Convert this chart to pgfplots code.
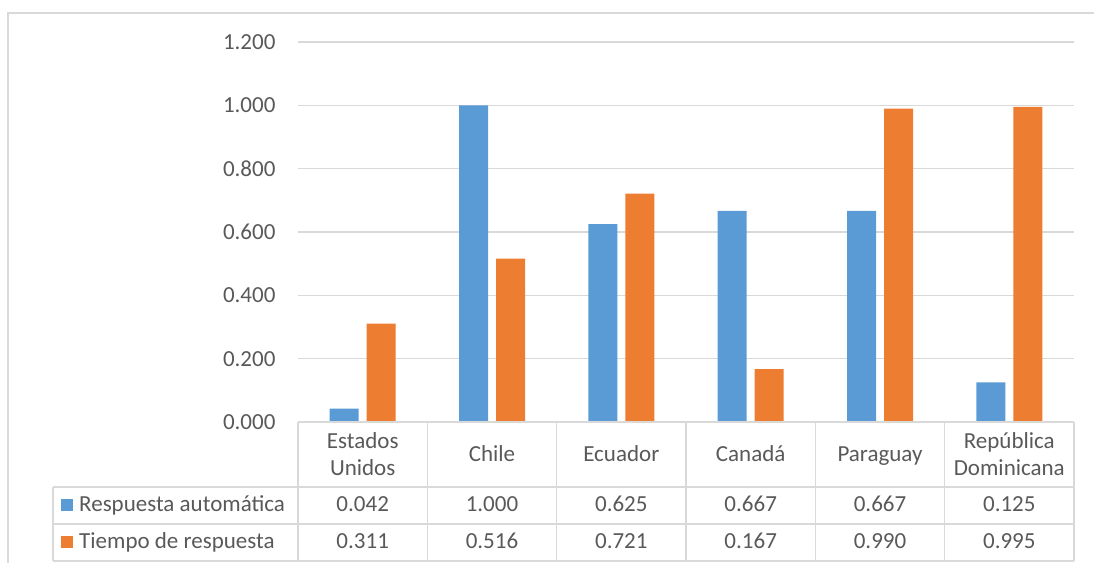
\documentclass[border=0pt]{standalone}
\usepackage{pgfplots}
\pgfplotsset{compat=1.18}
\usepackage{fontspec}
\setmainfont{Carlito}
\definecolor{cblue}{HTML}{5B9BD5}
\definecolor{corange}{HTML}{ED7D31}
\definecolor{gridc}{HTML}{D9D9D9}
\definecolor{txt}{HTML}{595959}
\newcommand{\tf}{\fontsize{23}{27.5}\selectfont}
\begin{document}
\begin{tikzpicture}[x=1pt,y=1pt]
\useasboundingbox (0,0) rectangle (1094,-563);
\draw[gridc, line width=1.5pt] (8,-563) -- (8,-13) -- (1094,-13);
\begin{axis}[at={(298pt,-422pt)}, anchor=south west, scale only axis,
  width=776pt, height=380pt,
  ymin=0, ymax=1.2, xmin=-0.5, xmax=5.5,
  ybar=8pt, bar width=29pt,
  ytick={0,0.2,0.4,0.6,0.8,1.0,1.2},
  xtick=\empty,
  axis line style={draw=none}, major tick length=0pt,
  ymajorgrids, grid style={gridc, line width=1.3pt},
  yticklabel style={font=\tf, text=txt, xshift=-19pt,
    /pgf/number format/.cd, fixed, fixed zerofill, precision=3, assume math mode=true},
  clip=false]
\addplot[fill=cblue, draw=none] coordinates {(0,0.042) (1,1.000) (2,0.625) (3,0.667) (4,0.667) (5,0.125)};
\addplot[fill=corange, draw=none] coordinates {(0,0.311) (1,0.516) (2,0.721) (3,0.167) (4,0.990) (5,0.995)};
\end{axis}
% table lines
\begin{scope}[gridc, line width=1.3pt]
\draw (298,-422) -- (1074,-422);
\draw (53,-487) -- (1074,-487);
\draw (53,-524) -- (1074,-524);
\draw (53,-561) -- (1074,-561);
\draw (53,-487) -- (53,-561);
\foreach \xx in {298,427.33,556.67,686,815.33,944.67,1074}
  \draw (\xx,-422) -- (\xx,-561);
\end{scope}
\begin{scope}[every node/.style={font=\tf, text=txt, inner sep=0pt, anchor=base}]
\node at (362.7,-448) {Estados};
\node at (362.7,-475) {Unidos};
\node at (492,-461) {Chile};
\node at (621.3,-461) {Ecuador};
\node at (750.7,-461) {Canadá};
\node at (880,-461) {Paraguay};
\node at (1009.3,-448) {República};
\node at (1009.3,-475) {Dominicana};
\node at (362.7,-511) {0.042};
\node at (492,-511) {1.000};
\node at (621.3,-511) {0.625};
\node at (750.7,-511) {0.667};
\node at (880,-511) {0.667};
\node at (1009.3,-511) {0.125};
\node at (362.7,-548) {0.311};
\node at (492,-548) {0.516};
\node at (621.3,-548) {0.721};
\node at (750.7,-548) {0.167};
\node at (880,-548) {0.990};
\node at (1009.3,-548) {0.995};
\node[anchor=base west] at (79,-511) {Respuesta automática};
\node[anchor=base west] at (79,-548) {Tiempo de respuesta};
\end{scope}
\fill[cblue] (61,-499) rectangle (73,-511);
\fill[corange] (61,-536) rectangle (73,-548);
\end{tikzpicture}
\end{document}
